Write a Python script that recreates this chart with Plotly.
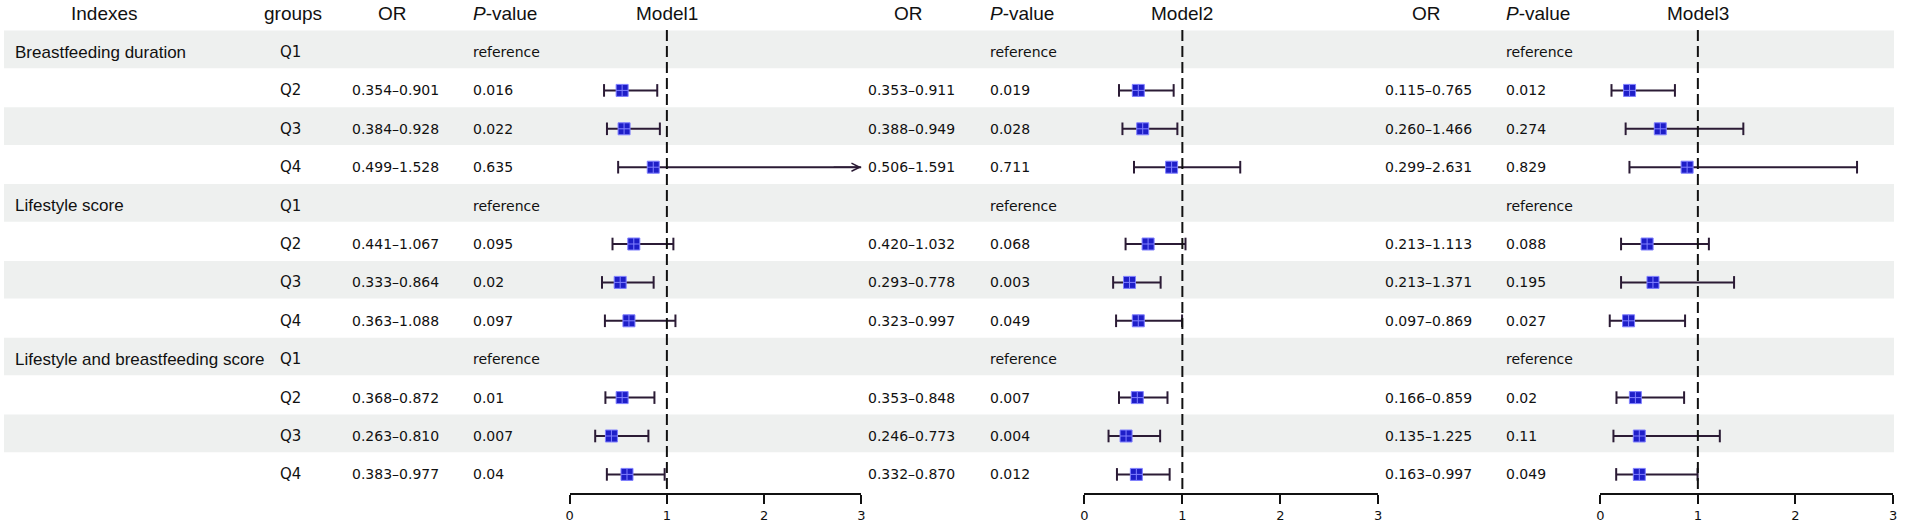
import plotly.graph_objects as go

# ========== data ==========
indexes = ["Breastfeeding duration", "", "", "",
           "Lifestyle score", "", "", "",
           "Lifestyle and breastfeeding score", "", "", ""]
groups = ["Q1", "Q2", "Q3", "Q4"] * 3
models = ["Model1", "Model2", "Model3"]

m1_est = [None, 0.54, 0.56, 0.86, None, 0.66, 0.52, 0.61, None, 0.54, 0.43, 0.59]
m1_lo = [None, 0.354, 0.384, 0.499, None, 0.441, 0.333, 0.363, None, 0.368, 0.263, 0.383]
m1_hi = [None, 0.901, 0.928, 1.528, None, 1.067, 0.864, 1.088, None, 0.872, 0.810, 0.977]
m1_p = ["reference", "0.016", "0.022", "0.635", "reference", "0.095", "0.02", "0.097",
        "reference", "0.01", "0.007", "0.04"]
m1_overflow = [3]   # rows whose drawn interval runs off the right end (arrow)

m2_est = [None, 0.55, 0.595, 0.89, None, 0.65, 0.46, 0.55, None, 0.54, 0.425, 0.53]
m2_lo = [None, 0.353, 0.388, 0.506, None, 0.420, 0.293, 0.323, None, 0.353, 0.246, 0.332]
m2_hi = [None, 0.911, 0.949, 1.591, None, 1.032, 0.778, 0.997, None, 0.848, 0.773, 0.870]
m2_p = ["reference", "0.019", "0.028", "0.711", "reference", "0.068", "0.003", "0.049",
        "reference", "0.007", "0.004", "0.012"]
m2_overflow = []

m3_est = [None, 0.30, 0.615, 0.89, None, 0.48, 0.54, 0.29, None, 0.36, 0.40, 0.40]
m3_lo = [None, 0.115, 0.260, 0.299, None, 0.213, 0.213, 0.097, None, 0.166, 0.135, 0.163]
m3_hi = [None, 0.765, 1.466, 2.631, None, 1.113, 1.371, 0.869, None, 0.859, 1.225, 0.997]
m3_p = ["reference", "0.012", "0.274", "0.829", "reference", "0.088", "0.195", "0.027",
        "reference", "0.02", "0.11", "0.049"]
m3_overflow = []

x_ticks = [0, 1, 2, 3]

# ========== layout constants (page pixels) ==========
W, H = 1906, 523
X_MAX = 3
ROW0_PX, ROW_STEP = 52, 38.4        # centre of first row, row pitch
AXIS_PX = 493
Y_TOP = (0 - ROW0_PX) / ROW_STEP
Y_BOTTOM = (AXIS_PX - ROW0_PX) / ROW_STEP
Y_DOM0 = (H - AXIS_PX) / H
HEADER_ROW = -1
PANEL_PX = [(568, 861), (1085, 1380), (1603, 1897)]
OR_CENTER_PX = [393, 911, 1431]
P_LEFT_PX = [469, 988, 1506]
INDEX_LEFT_PX = 9
GROUP_LEFT_PX = 275
BAND_RIGHT_PX = 1898

HEAD_FONT = dict(family="Liberation Sans, Arial", size=19, color="#111")
LABEL_FONT = dict(family="Liberation Sans, Arial", size=17, color="#111")
CELL_FONT = dict(family="DejaVu Sans", size=14, color="#111")
GROUP_FONT = dict(family="DejaVu Sans", size=15, color="#111")
LINE_COLOR = "#2b1b35"
BOX_COLOR = "#1e1ec8"
BAND_COLOR = "#eef0ef"

rows = list(range(len(groups)))
model_data = [
    (m1_est, m1_lo, m1_hi, m1_p, m1_overflow),
    (m2_est, m2_lo, m2_hi, m2_p, m2_overflow),
    (m3_est, m3_lo, m3_hi, m3_p, m3_overflow),
]

fig = go.Figure()
annotations = []
shapes = []


def px(x):
    # page pixel -> paper fraction
    return x / W


# zebra bands
for r in rows:
    if r % 2 == 0:
        shapes.append(dict(type="rect", xref="paper", yref="y", x0=0, x1=px(BAND_RIGHT_PX),
                           y0=r - 0.56, y1=r + 0.42, fillcolor=BAND_COLOR,
                           line=dict(width=0), layer="below"))

# left table
annotations.append(dict(text="Indexes", x=px(101), y=HEADER_ROW, xref="paper", yref="y",
                        showarrow=False, font=HEAD_FONT, xanchor="center"))
annotations.append(dict(text="groups", x=px(290), y=HEADER_ROW, xref="paper", yref="y",
                        showarrow=False, font=HEAD_FONT, xanchor="center"))
for r in rows:
    if indexes[r]:
        annotations.append(dict(text=indexes[r], x=px(INDEX_LEFT_PX), y=r, xref="paper", yref="y",
                                showarrow=False, font=LABEL_FONT, xanchor="left"))
    annotations.append(dict(text=groups[r], x=px(GROUP_LEFT_PX), y=r, xref="paper", yref="y",
                            showarrow=False, font=GROUP_FONT, xanchor="left"))

for k, (est, lo, hi, pv, overflow) in enumerate(model_data):
    xa = "x" if k == 0 else f"x{k + 1}"
    xkey = "xaxis" if k == 0 else f"xaxis{k + 1}"

    # table columns
    annotations.append(dict(text="OR", x=px(OR_CENTER_PX[k] - 3), y=HEADER_ROW, xref="paper",
                            yref="y", showarrow=False, font=HEAD_FONT, xanchor="center"))
    annotations.append(dict(text="<i>P</i>-value", x=px(P_LEFT_PX[k]), y=HEADER_ROW, xref="paper",
                            yref="y", showarrow=False, font=HEAD_FONT, xanchor="left"))
    annotations.append(dict(text=models[k], x=1, y=HEADER_ROW, xref=xa, yref="y",
                            showarrow=False, font=HEAD_FONT, xanchor="center"))
    for r in rows:
        if lo[r] is not None:
            annotations.append(dict(text=f"{lo[r]:.3f}\u2013{hi[r]:.3f}", x=px(OR_CENTER_PX[k]), y=r,
                                    xref="paper", yref="y", showarrow=False, font=CELL_FONT,
                                    xanchor="center"))
        annotations.append(dict(text=pv[r], x=px(P_LEFT_PX[k]), y=r, xref="paper", yref="y",
                                showarrow=False, font=CELL_FONT, xanchor="left"))

    # CI lines and caps
    lx, ly, cx, cy = [], [], [], []
    for r in rows:
        if lo[r] is None:
            continue
        right = X_MAX if r in overflow else hi[r]
        lx += [lo[r], right, None]
        ly += [r, r, None]
        cx.append(lo[r])
        cy.append(r)
        if r not in overflow:
            cx.append(hi[r])
            cy.append(r)
        else:
            annotations.append(dict(text="", x=X_MAX, y=r, ax=X_MAX - 0.3, ay=r, xref=xa, yref="y",
                                    axref=xa, ayref="y", showarrow=True, arrowhead=5,
                                    arrowsize=1, arrowwidth=1.6, arrowcolor=LINE_COLOR))
    fig.add_trace(go.Scatter(x=lx, y=ly, mode="lines", xaxis=xa, yaxis="y",
                             line=dict(color=LINE_COLOR, width=2), showlegend=False,
                             hoverinfo="skip"))
    fig.add_trace(go.Scatter(x=cx, y=cy, mode="markers", xaxis=xa, yaxis="y",
                             marker=dict(symbol="line-ns", size=9,
                                         line=dict(color=LINE_COLOR, width=2)),
                             showlegend=False, hoverinfo="skip", cliponaxis=False))
    fig.add_trace(go.Scatter(x=[e for e in est if e is not None],
                             y=[r for r in rows if est[r] is not None],
                             mode="markers", xaxis=xa, yaxis="y",
                             marker=dict(symbol="square-cross", size=12, color=BOX_COLOR,
                                         line=dict(color="#8080ff", width=1)),
                             showlegend=False, cliponaxis=False))

    # reference line at OR = 1
    shapes.append(dict(type="line", xref=xa, yref="y", x0=1, x1=1, y0=-0.57, y1=Y_BOTTOM,
                       line=dict(color="#111", width=2, dash="11px,5px")))

    fig.layout[xkey] = dict(
        domain=[px(PANEL_PX[k][0]), px(PANEL_PX[k][1])], range=[0, X_MAX], anchor="y",
        showline=True, linecolor="#111", linewidth=2, ticks="outside", ticklen=9,
        tickwidth=2, tickcolor="#111", tickvals=x_ticks, showgrid=False, zeroline=False,
        tickfont=dict(family="DejaVu Sans", size=13, color="#111"), fixedrange=True,
    )

fig.update_layout(
    width=W, height=H,
    margin=dict(l=0, r=0, t=0, b=0),
    paper_bgcolor="white",
    plot_bgcolor="rgba(0,0,0,0)",
    yaxis=dict(domain=[Y_DOM0, 1], range=[Y_BOTTOM, Y_TOP], visible=False, fixedrange=True),
    annotations=annotations,
    shapes=shapes,
    showlegend=False,
)

# drop the default 8px page margin so the figure fills the window exactly
fig.write_html("out.html", config={"displayModeBar": False},
               post_script="document.body.style.margin='0px';")
